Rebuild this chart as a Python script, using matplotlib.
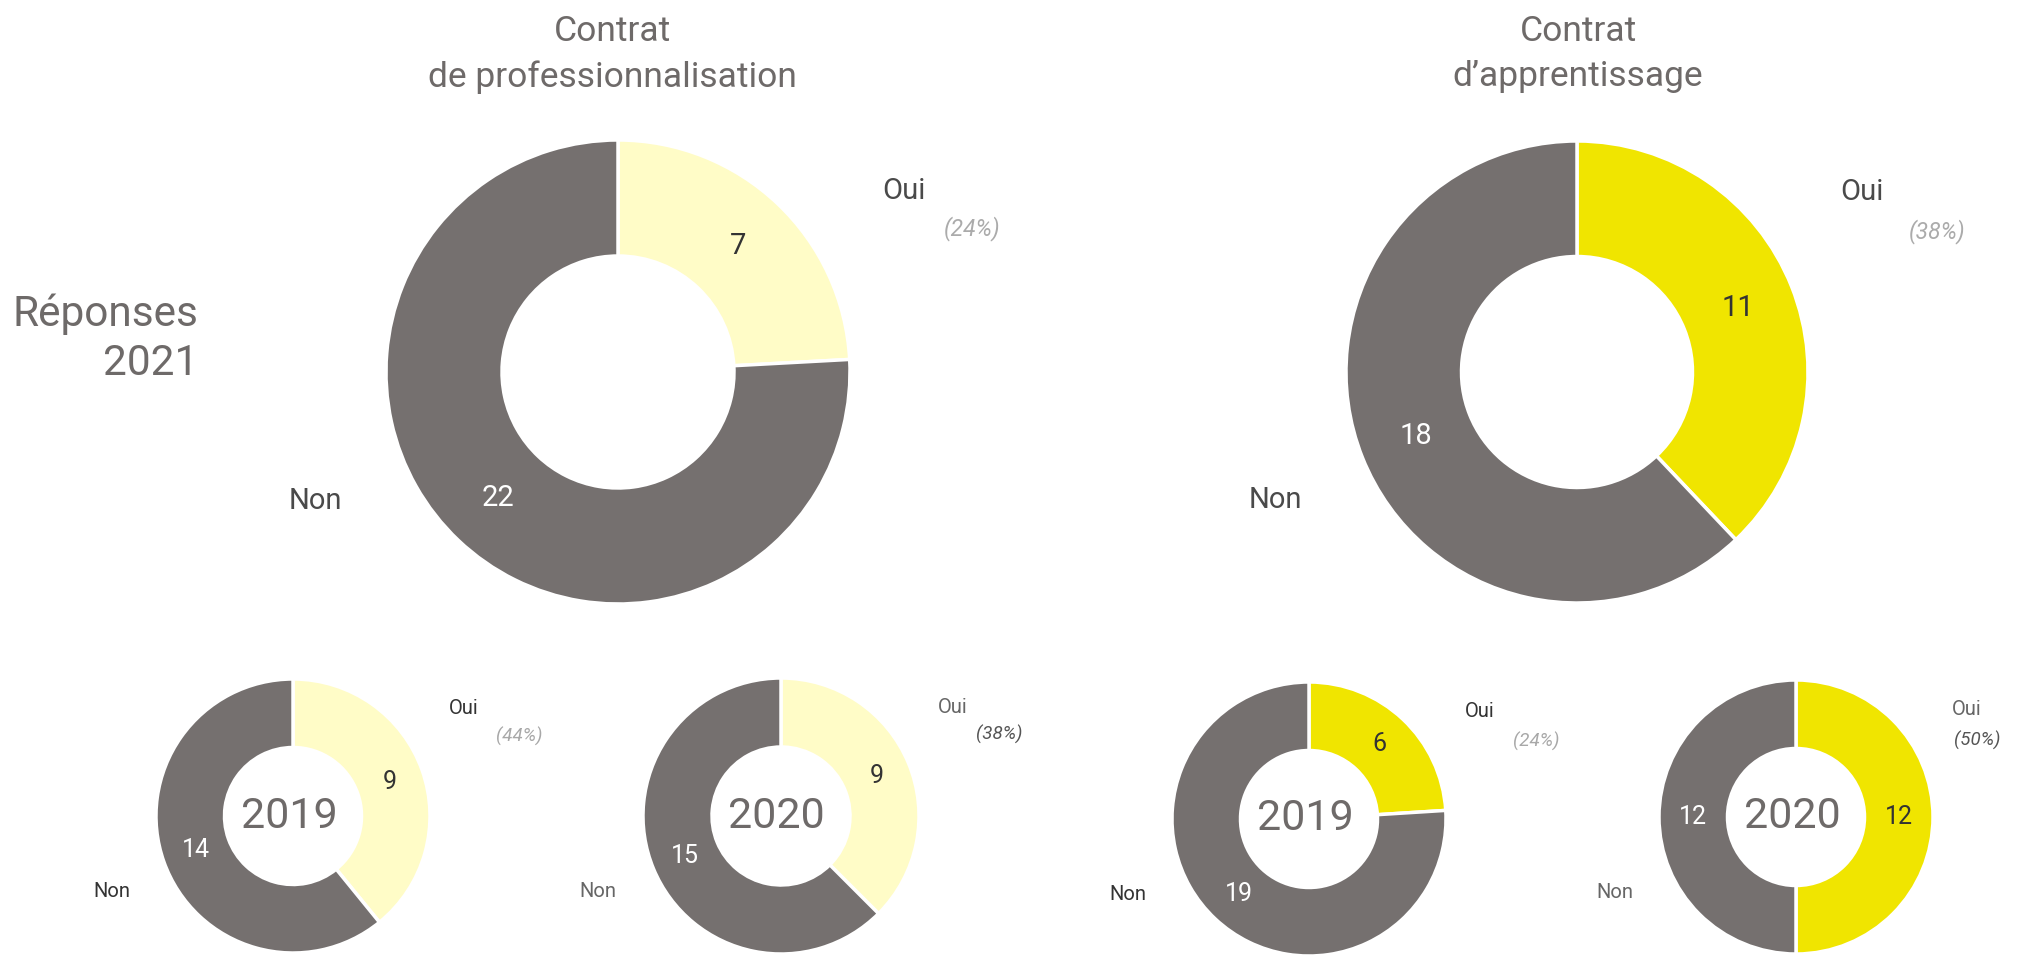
import numpy as np
import matplotlib
matplotlib.use("Agg")
from matplotlib import pyplot as plt

plt.rcParams['font.family'] = ['Roboto', 'DejaVu Sans']

# data
groups = ["Contrat\nde professionnalisation", "Contrat\nd\u2019apprentissage"]
years = ["2021", "2019", "2020"]
oui_pro = [7, 9, 9]        # 2021, 2019, 2020
non_pro = [22, 14, 15]
pct_pro = ["(24%)", "(44%)", "(38%)"]
oui_app = [11, 6, 12]
non_app = [18, 19, 12]
pct_app = ["(38%)", "(24%)", "(50%)"]

GRAY = "#75706f"
PALE = "#fffcc7"
YELLOW = "#f0e500"
TITLE = "#6e6a69"
W, H = 2044, 956

fig = plt.figure(figsize=(W / 100, H / 100), dpi=100)
fig.patch.set_facecolor("white")

# layout: (center x, center y, radius) in pixels, per chart
layout = {
    ("pro", 0): (618, 372, 232), ("pro", 1): (293, 816, 137), ("pro", 2): (781, 816, 138),
    ("app", 0): (1577, 372, 231), ("app", 1): (1309, 819, 137), ("app", 2): (1796, 817, 137),
}
# pct label (right edge x, baseline y) in radius units
pct_pos = {
    ("pro", 0): (1.65, 0.59), ("pro", 1): (1.82, 0.54), ("pro", 2): (1.75, 0.55),
    ("app", 0): (1.68, 0.58), ("app", 1): (1.83, 0.53), ("app", 2): (1.49, 0.52),
}
# text colours per chart: (oui/non label, pct)
txt_col = {
    ("pro", 0): ("#4a4a4a", "#ababab"), ("pro", 1): ("#333333", "#a8a8a8"), ("pro", 2): ("#666666", "#555555"),
    ("app", 0): ("#4a4a4a", "#ababab"), ("app", 1): ("#333333", "#a8a8a8"), ("app", 2): ("#666666", "#555555"),
}


def donut(key, oui, non, pct, col, year=None):
    cx, cy, r = layout[key]
    ax = fig.add_axes([(cx - r) / W, (H - cy - r) / H, 2 * r / W, 2 * r / H])
    wedges, _ = ax.pie([oui, non], colors=[col, GRAY], startangle=90, counterclock=False,
                       radius=1, wedgeprops=dict(width=0.5, edgecolor="white", linewidth=2.5))
    ax.set_xlim(-1, 1)
    ax.set_ylim(-1, 1)
    ax.set_aspect("equal")
    ax.axis("off")
    big = year is None
    vs = 21 if big else 18
    ls = 21 if big else 14.5
    for w, v, c in zip(wedges, [oui, non], ["#333333", "white"]):
        a = np.deg2rad((w.theta1 + w.theta2) / 2)
        ax.text(0.75 * np.cos(a), 0.75 * np.sin(a), str(v), ha="center", va="center",
                fontsize=vs, color=c)
    lc, pc = txt_col[key]
    ax.text(1.14, 0.745, "Oui", ha="left", va="baseline", fontsize=ls, color=lc)
    ax.text(-1.19, -0.59, "Non", ha="right", va="baseline", fontsize=ls, color=lc)
    px, py = pct_pos[key]
    ax.text(px, py, pct, ha="right", va="baseline", fontsize=16.5 if big else 13.5, color=pc,
            style="italic")
    if year is not None:
        ax.text(-0.03, 0, year, ha="center", va="center", fontsize=31, color=TITLE)


for i in range(3):
    donut(("pro", i), oui_pro[i], non_pro[i], pct_pro[i], PALE, None if i == 0 else years[i])
    donut(("app", i), oui_app[i], non_app[i], pct_app[i], YELLOW, None if i == 0 else years[i])

fig.text(612 / W, 1 - 15 / H, groups[0], ha="center", va="top", fontsize=25.5, color=TITLE,
         linespacing=1.45)
fig.text(1578 / W, 1 - 15 / H, groups[1], ha="center", va="top", fontsize=25.5, color=TITLE,
         linespacing=1.45)
fig.text(198 / W, 1 - 293 / H, "R\u00e9ponses\n" + years[0], ha="right", va="top", fontsize=30.5,
         color=TITLE, linespacing=1.25)

fig.savefig("out.png", dpi=100, facecolor="white")
